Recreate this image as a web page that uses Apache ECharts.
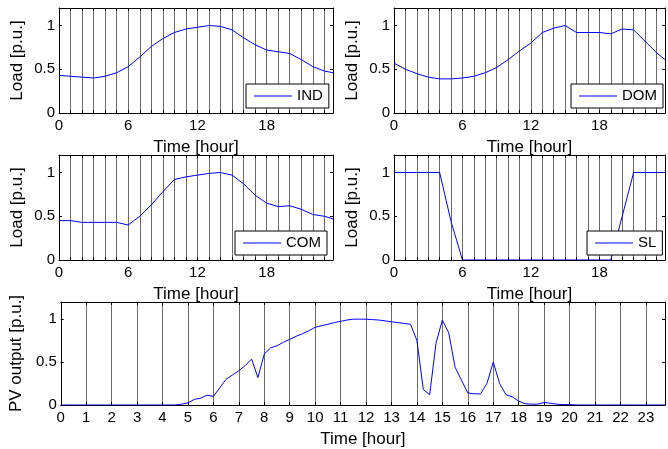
<!DOCTYPE html>
<html>
<head>
<meta charset="utf-8">
<script src="https://cdn.jsdelivr.net/npm/echarts@6/dist/echarts.min.js"></script>
<style>
  html, body { margin: 0; padding: 0; background: #fff; }
  #chart { width: 668px; height: 449px; }
</style>
</head>
<body>
<div id="chart"></div>
<script>
// hourly samples for the load profiles (last point is 23:45)
const loadHours = [0, 1, 2, 3, 4, 5, 6, 7, 8, 9, 10, 11, 12, 13, 14, 15, 16, 17, 18, 19, 20, 21, 22, 23, 23.75];
const indLoad = [0.43, 0.42, 0.41, 0.40, 0.42, 0.46, 0.53, 0.64, 0.76, 0.85, 0.92, 0.96, 0.98, 1.0, 0.99, 0.95, 0.86, 0.78, 0.72, 0.70, 0.68, 0.61, 0.53, 0.48, 0.46];
const domLoad = [0.57, 0.50, 0.45, 0.41, 0.39, 0.39, 0.40, 0.42, 0.46, 0.52, 0.61, 0.71, 0.80, 0.92, 0.97, 1.0, 0.92, 0.92, 0.92, 0.905, 0.96, 0.95, 0.82, 0.69, 0.61];
const comLoad = [0.45, 0.45, 0.43, 0.43, 0.43, 0.43, 0.40, 0.50, 0.63, 0.78, 0.92, 0.95, 0.97, 0.99, 1.0, 0.97, 0.87, 0.74, 0.65, 0.61, 0.62, 0.58, 0.52, 0.50, 0.47];
const slLoad = [1, 1, 1, 1, 1, 0.44, 0, 0, 0, 0, 0, 0, 0, 0, 0, 0, 0, 0, 0, 0, 0.5, 1, 1, 1, 1];

// PV output, 15-minute samples from 0:00 to 23:45
const pvStep = 0.25;
const pvOutput = [
  0, 0, 0, 0, 0, 0, 0, 0, 0, 0, 0, 0, 0, 0, 0, 0, 0, 0, 0,          // 0:00 - 4:30
  0.01, 0.025, 0.065, 0.08, 0.115, 0.10, 0.20, 0.30, 0.35, 0.40,     // 4:45 - 7:00
  0.46, 0.535, 0.32, 0.595, 0.665, 0.69, 0.73, 0.765, 0.80, 0.83,    // 7:15 - 9:30
  0.865, 0.905, 0.925, 0.94, 0.96, 0.975, 0.99, 1.0, 1.0, 1.0,       // 9:45 - 12:00
  0.995, 0.99, 0.98, 0.97, 0.96, 0.95, 0.94, 0.75, 0.18, 0.12,       // 12:15 - 14:30
  0.72, 0.99, 0.84, 0.44, 0.29, 0.14, 0.13, 0.13, 0.25, 0.50,        // 14:45 - 17:00
  0.25, 0.12, 0.095, 0.045, 0.015, 0.01, 0.01, 0.03, 0.02, 0.01,     // 17:15 - 19:30
  0.005, 0.005,                                                       // 19:45 - 20:00
  0, 0, 0, 0, 0, 0, 0, 0, 0, 0, 0, 0, 0, 0, 0                         // 20:15 - 23:45
];

const loadTicks = [0, 6, 12, 18];
const yTicks = [0, 0.5, 1];

const FONT = 'Liberation Sans, Arial, sans-serif';
const BLUE = '#0000ff';

const chart = echarts.init(document.getElementById('chart'));

const panels = [
  { name: 'IND', data: indLoad, left: 59, top: 8, width: 274, legendLeft: 246 },
  { name: 'DOM', data: domLoad, left: 394, top: 8, width: 273, legendLeft: 571 },
  { name: 'COM', data: comLoad, left: 59, top: 155, width: 274, legendLeft: 235 },
  { name: 'SL', data: slLoad, left: 394, top: 155, width: 273, legendLeft: 587 },
  { name: 'PV', left: 59, top: 302, width: 609 }
];

const grids = [], xAxes = [], yAxes = [], series = [], legends = [];

panels.forEach((p, i) => {
  const isPV = p.name === 'PV';
  grids.push({ left: p.left, top: p.top, width: p.width, height: 105, show: false });

  const xBase = {
    type: 'value', gridIndex: i, min: 0, max: 23.75, interval: 1,
    axisLine: { show: true, onZero: false, lineStyle: { color: '#000', width: 1 } },
    axisTick: { show: true, inside: true, length: 3, lineStyle: { color: '#000' } }
  };
  xAxes.push(Object.assign({}, xBase, {
    position: 'bottom',
    name: 'Time [hour]', nameLocation: 'middle', nameGap: 26,
    nameTextStyle: { fontFamily: FONT, fontSize: 17, color: '#000' },
    axisLabel: {
      fontFamily: FONT, fontSize: 15, color: '#000', margin: 5,
      formatter: v => {
        if (isPV) return Number.isInteger(v) ? String(v) : '';
        return loadTicks.includes(v) ? String(v) : '';
      }
    },
    splitLine: { show: true, lineStyle: { color: '#6a6a6a', width: 1 } }
  }));
  xAxes.push(Object.assign({}, xBase, {
    position: 'top', axisLabel: { show: false }, splitLine: { show: false }
  }));

  const yBase = {
    type: 'value', gridIndex: i, min: 0, max: 1.2, interval: 0.5,
    axisLine: { show: true, onZero: false, lineStyle: { color: '#000', width: 1 } },
    axisTick: { show: true, inside: true, length: 3, lineStyle: { color: '#000' } },
    splitLine: { show: false }
  };
  yAxes.push(Object.assign({}, yBase, {
    position: 'left',
    name: isPV ? 'PV output [p.u.]' : 'Load [p.u.]',
    nameLocation: 'middle', nameRotate: 90, nameGap: isPV ? 35 : 33,
    nameTextStyle: { fontFamily: FONT, fontSize: 17, color: '#000' },
    axisLabel: {
      fontFamily: FONT, fontSize: 15, color: '#000', margin: 4,
      formatter: v => yTicks.includes(v) ? String(v) : ''
    }
  }));
  yAxes.push(Object.assign({}, yBase, {
    position: 'right', axisLabel: { show: false }
  }));

  const data = isPV
    ? pvOutput.map((v, k) => [k * pvStep, v])
    : p.data.map((v, k) => [loadHours[k], v]);

  series.push({
    name: p.name, type: 'line', xAxisIndex: 2 * i, yAxisIndex: 2 * i,
    data: data, showSymbol: false, symbol: 'none', animation: false,
    lineStyle: { color: BLUE, width: 1 }, itemStyle: { color: BLUE }
  });

  if (!isPV) {
    legends.push({
      data: [p.name], left: p.legendLeft, top: p.top + 76,
      backgroundColor: '#fff', borderColor: '#000', borderWidth: 1, borderRadius: 0,
      padding: [4, 6, 4, 8], itemWidth: 38, itemHeight: 1, icon: 'rect',
      selectedMode: false,
      textStyle: { fontFamily: FONT, fontSize: 15, color: '#000', lineHeight: 16 }
    });
  }
});

chart.setOption({
  backgroundColor: '#fff',
  animation: false,
  grid: grids,
  xAxis: xAxes,
  yAxis: yAxes,
  legend: legends,
  series: series
});

window.addEventListener('resize', () => chart.resize());
</script>
</body>
</html>
